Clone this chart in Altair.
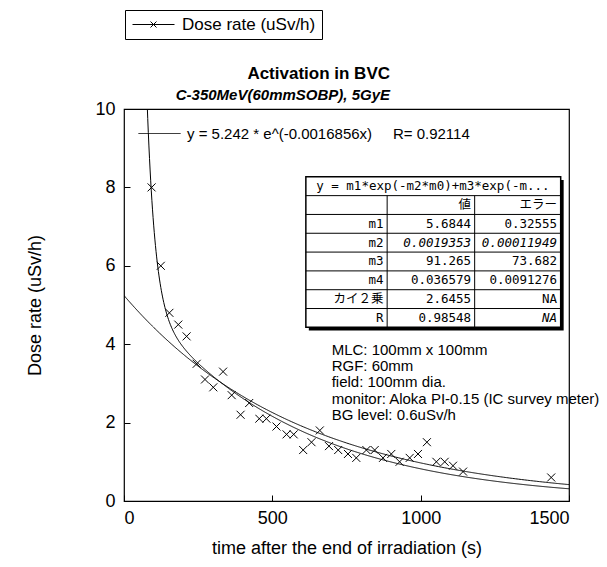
import altair as alt
import pandas as pd

# ---- data ----
time_s = [93, 124, 153, 183, 211, 245, 273, 301, 334, 363, 393, 422, 456, 480,
          514, 548, 572, 604, 632, 660, 691, 722, 755, 783, 817, 845, 873, 901,
          929, 963, 991, 1021, 1053, 1081, 1109, 1143, 1440]
dose = [8.0, 6.0, 4.8, 4.5, 4.2, 3.5, 3.1, 2.9, 3.3, 2.7, 2.2, 2.5, 2.1, 2.1,
        1.9, 1.7, 1.7, 1.3, 1.5, 1.8, 1.4, 1.3, 1.2, 1.1, 1.3, 1.3, 1.1, 1.2,
        1.0, 1.1, 1.2, 1.5, 1.0, 1.0, 0.9, 0.75, 0.6]

# single exponential fit shown in the chart
fit1_a = 5.242
fit1_b = 0.0016856
fit1_label = "y = 5.242 * e^(-0.0016856x)\u00a0\u00a0\u00a0\u00a0\u00a0R= 0.92114"

# double exponential fit (table values)
m1, m2, m3, m4 = 5.6844, 0.0019353, 91.265, 0.036579

table_title = "y = m1*exp(-m2*m0)+m3*exp(-m..."
table_head = ["", "値", "エラー"]
table_names = ["m1", "m2", "m3", "m4", "カイ２乗", "R"]
table_values = ["5.6844", "0.0019353", "91.265", "0.036579", "2.6455", "0.98548"]
table_errors = ["0.32555", "0.00011949", "73.682", "0.0091276", "NA", "NA"]
table_italic_val = [False, True, False, False, False, False]
table_italic_err = [False, True, False, False, False, True]

notes = ["MLC: 100mm x 100mm", "RGF: 60mm", "field: 100mm dia.",
         "monitor: Aloka PI-0.15 (IC survey meter)", "BG level: 0.6uSv/h"]

series_name = "Dose rate (uSv/h)"
title_1 = "Activation in BVC"
title_2 = "C-350MeV(60mmSOBP), 5GyE"
x_title = "time after the end of irradiation (s)"
y_title = "Dose rate (uSv/h)"
x_ticks = [0, 500, 1000, 1500]
y_ticks = [0, 2, 4, 6, 8, 10]

# ---- layout ----
W, H = 445, 392
FONT = "Liberation Sans"
TFONT = "DejaVu Sans Mono, Noto Sans CJK JP"

# table layout in data units
TX = [613, 887, 1182, 1472]
T_TOP = 8.27
ROW = 0.48

xs = alt.Scale(domain=[0, 1500], nice=False, zero=False)
ys = alt.Scale(domain=[0, 10], nice=False, zero=False)

pts = pd.DataFrame({"t": time_s, "v": dose, "s": series_name})

points = alt.Chart(pts).mark_point(
    shape="M-1,-1L1,1M-1,1L1,-1", filled=False, size=64, strokeWidth=1, opacity=1
).encode(
    x=alt.X("t:Q", scale=xs, title=x_title,
            axis=alt.Axis(values=x_ticks, format="d", offset=-6, tickSize=6, domain=False,
                          labelPadding=8, grid=False, titlePadding=12)),
    y=alt.Y("v:Q", scale=ys, title=y_title,
            axis=alt.Axis(values=y_ticks, format="d", offset=-6, tickSize=6, domain=False,
                          labelPadding=9, grid=False, titlePadding=50)),
    color=alt.Color("s:N", scale=alt.Scale(range=["black"]),
                    legend=alt.Legend(
                        title=None, orient="none", legendX=1, legendY=-99,
                        symbolType="M-7,0H7M-1,-1L1,1M-1,1L1,-1", symbolSize=36,
                        symbolStrokeWidth=1, symbolOffset=14, labelOffset=20,
                        labelFontSize=17, labelFont=FONT, labelColor="black",
                        padding=6, fillColor="white", strokeColor="black",
                        symbolFillColor="transparent", symbolStrokeColor="black")),
)

fit1 = alt.Chart(alt.sequence(0, 1505, 5, as_="t")).transform_calculate(
    v=f"{fit1_a} * exp(-{fit1_b} * datum.t)", f=f"'{fit1_label}'"
).mark_line(color="black", strokeWidth=1, clip=True).encode(
    x=alt.X("t:Q", scale=xs), y=alt.Y("v:Q", scale=ys),
    strokeDash=alt.StrokeDash("f:N", scale=alt.Scale(range=[[1, 0]]),
                              legend=alt.Legend(
                                  title=None, orient="none", legendX=14, legendY=3,
                                  symbolType="stroke", symbolSize=1764,
                                  symbolStrokeColor="black", symbolStrokeWidth=1,
                                  labelOffset=6, labelFontSize=15, labelFont=FONT,
                                  labelColor="black", labelLimit=400, padding=0)),
)

fit2 = alt.Chart(alt.sequence(60, 1502, 2, as_="t")).transform_calculate(
    v=f"{m1} * exp(-{m2} * datum.t) + {m3} * exp(-{m4} * datum.t)"
).transform_filter("datum.v <= 10.5").mark_line(
    color="black", strokeWidth=1, clip=True
).encode(x=alt.X("t:Q", scale=xs), y=alt.Y("v:Q", scale=ys))

# ---- table ----
n_rows = 2 + len(table_names)
shadow = pd.DataFrame({"x": [TX[0] + 10], "x2": [TX[-1] + 10],
                       "y": [T_TOP - 0.08], "y2": [T_TOP - n_rows * ROW - 0.08]})
frame = pd.DataFrame({"x": [TX[0]], "x2": [TX[-1]],
                      "y": [T_TOP], "y2": [T_TOP - n_rows * ROW]})
tab_shadow = alt.Chart(shadow).mark_rect(color="black").encode(
    x=alt.X("x:Q", scale=xs), x2="x2", y=alt.Y("y:Q", scale=ys), y2="y2")
tab_frame = alt.Chart(frame).mark_rect(fill="white", stroke="black", strokeWidth=1.5).encode(
    x=alt.X("x:Q", scale=xs), x2="x2", y=alt.Y("y:Q", scale=ys), y2="y2")

hl = pd.DataFrame({"x": [TX[0]] * (n_rows - 1), "x2": [TX[-1]] * (n_rows - 1),
                   "y": [T_TOP - (i + 1) * ROW for i in range(n_rows - 1)]})
hlines = alt.Chart(hl).mark_rule(color="black", strokeWidth=1).encode(
    x=alt.X("x:Q", scale=xs), x2="x2", y=alt.Y("y:Q", scale=ys))
vl = pd.DataFrame({"x": TX[1:3], "y": [T_TOP - ROW] * 2, "y2": [T_TOP - n_rows * ROW] * 2})
vlines = alt.Chart(vl).mark_rule(color="black", strokeWidth=1).encode(
    x=alt.X("x:Q", scale=xs), y=alt.Y("y:Q", scale=ys), y2="y2")

cells = []
pad = 12
for j, h in enumerate(table_head):
    cells.append({"x": TX[j + 1] - pad, "y": T_TOP - 1.5 * ROW, "txt": h, "st": "normal"})
for i, nm in enumerate(table_names):
    yy = T_TOP - (2.5 + i) * ROW
    cells.append({"x": TX[1] - pad, "y": yy, "txt": nm, "st": "normal"})
    cells.append({"x": TX[2] - pad, "y": yy, "txt": table_values[i],
                  "st": "italic" if table_italic_val[i] else "normal"})
    cells.append({"x": TX[3] - pad, "y": yy, "txt": table_errors[i],
                  "st": "italic" if table_italic_err[i] else "normal"})
cells_df = pd.DataFrame(cells)
base_txt = alt.Chart(cells_df).encode(x=alt.X("x:Q", scale=xs), y=alt.Y("y:Q", scale=ys),
                                       text="txt:N")
txt_n = base_txt.transform_filter("datum.st == 'normal'").mark_text(
    align="right", baseline="middle", font=TFONT, fontSize=12.5, color="black")
txt_i = base_txt.transform_filter("datum.st == 'italic'").mark_text(
    align="right", baseline="middle", font=TFONT, fontSize=12.5, color="black",
    fontStyle="italic")
head_df = pd.DataFrame({"x": [TX[0] + 35], "y": [T_TOP - 0.5 * ROW], "txt": [table_title]})
txt_head = alt.Chart(head_df).mark_text(
    align="left", baseline="middle", font=TFONT, fontSize=12.5, color="black"
).encode(x=alt.X("x:Q", scale=xs), y=alt.Y("y:Q", scale=ys), text="txt:N")

notes_df = pd.DataFrame({"x": [700], "y": [4.04], "txt": ["\n".join(notes)]})
notes_txt = alt.Chart(notes_df).mark_text(
    align="left", baseline="top", font=FONT, fontSize=15, lineHeight=16.3,
    lineBreak="\n", color="black"
).encode(x=alt.X("x:Q", scale=xs), y=alt.Y("y:Q", scale=ys), text="txt:N")

chart = alt.layer(
    fit1, fit2, tab_shadow, tab_frame, hlines, vlines, txt_n, txt_i, txt_head,
    notes_txt, points
).resolve_legend(color="independent", strokeDash="independent").properties(
    width=W, height=H, background="white",
    title=alt.Title(title_1, subtitle=title_2, font=FONT, fontSize=17, fontWeight="bold",
                    color="black", subtitleFont=FONT, subtitleFontSize=15,
                    subtitleFontWeight="bold", subtitleFontStyle="italic",
                    subtitleColor="black", anchor="end", frame="group", offset=3,
                    subtitlePadding=5, dx=-179, dy=97),
    autosize=alt.AutoSizeParams(type="none"),
    padding={"left": 124, "top": 109, "right": 38, "bottom": 66},
).configure_view(stroke="black", strokeWidth=1.2).configure_axis(
    labelFont=FONT, labelFontSize=18, labelColor="black", titleFont=FONT,
    titleFontSize=18, titleFontWeight="normal", titleColor="black", tickColor="black",
    tickWidth=1
)

chart.save("out.html", embed_options={"renderer": "svg", "actions": False})
